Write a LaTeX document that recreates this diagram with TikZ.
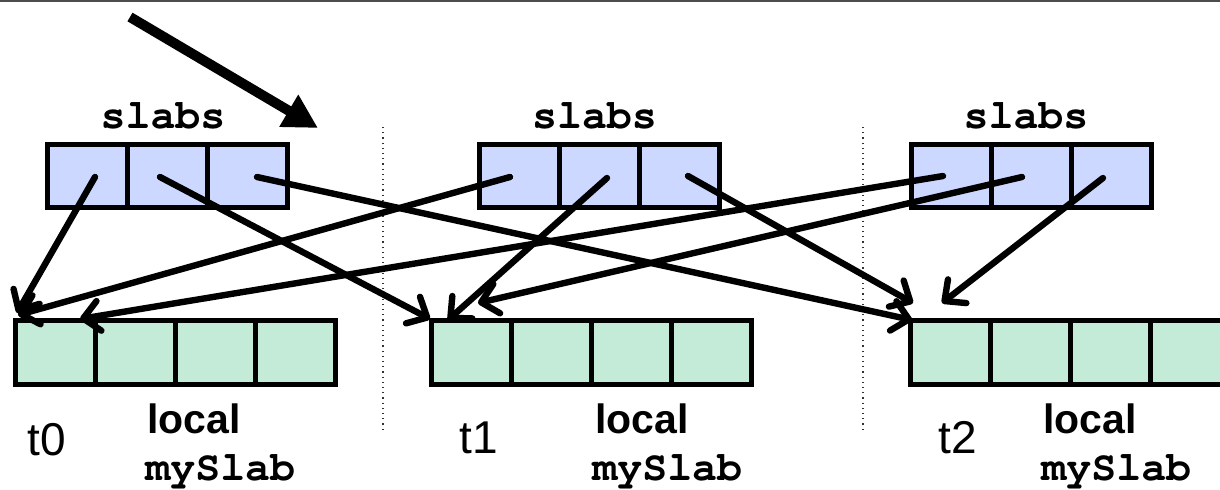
\documentclass[tikz,border=0pt]{standalone}
\usepackage[T1,TU]{fontenc}
\usepackage{fontspec}
\setmainfont{Liberation Sans}
\setsansfont{Liberation Sans}
\setmonofont{Liberation Mono}
\usetikzlibrary{arrows.meta,calc}
\definecolor{slabblue}{RGB}{204,216,255}
\definecolor{localgreen}{RGB}{196,234,216}
\newcommand\courbold{\fontencoding{T1}\fontfamily{pcr}\fontseries{b}\fontshape{n}\selectfont}

\begin{document}
\begin{tikzpicture}[x=0.5pt,y=-0.5pt,
  cellbase/.style={draw=black,line width=2.5pt,minimum width=40pt,inner sep=0pt,outer sep=0pt},
  slabcell/.style={cellbase,fill=slabblue,minimum height=31.5pt},
  localcell/.style={cellbase,fill=localgreen,minimum height=32pt},
  slabptr/.style={draw=black,line width=3.2pt,line cap=round,-{Straight Barb[length=8pt,width=15pt,round]}},
  bigptr/.style={line width=5pt,-{Triangle[length=17pt,width=17.5pt]}},
  codetxt/.style={font=\courbold\fontsize{20.8}{25}\selectfont,inner sep=0pt},
  localtxt/.style={font=\bfseries\fontsize{20.5}{25}\selectfont,inner sep=0pt},
  tidtxt/.style={font=\fontsize{23}{28}\selectfont,inner sep=0pt},
  sep/.style={line width=0.6pt,dotted,black!80}
]
\useasboundingbox (0,0) rectangle (1220,489);
\clip (0,0) rectangle (1220,489);

% rule along the top edge
\draw[line width=1pt,black!70] (0,1) -- (1220,1);

% thread separators
\draw[sep] (383,127) -- (383,432);
\draw[sep] (863,127) -- (863,432);

% shared slab pointer arrays
\foreach \g/\x in {0/87.5,1/519.5,2/951.5}{
  \foreach \c in {0,1,2}{
    \node[slabcell] (s\g\c) at ({\x+80*\c},176) {};
  }
}

% per-thread local slabs
\foreach \g/\x in {0/55.5,1/471.5,2/950.5}{
  \foreach \c in {0,1,2,3}{
    \node[localcell] (l\g\c) at ({\x+80*\c},352.5) {};
  }
}

% labels
\node[codetxt,anchor=base] (sl0) at (163,128) {slabs};
\node[codetxt,anchor=base] (sl1) at (594.5,128) {slabs};
\node[codetxt,anchor=base] (sl2) at (1026,128) {slabs};

\node[localtxt,anchor=base west] (lo0) at (147,433) {local};
\node[localtxt,anchor=base west] (lo1) at (595,433) {local};
\node[localtxt,anchor=base west] (lo2) at (1043,433) {local};

\node[codetxt,anchor=base west] (ms0) at (145,480) {mySlab};
\node[codetxt,anchor=base west] (ms1) at (592,480) {mySlab};
\node[codetxt,anchor=base west] (ms2) at (1041,480) {mySlab};

\node[tidtxt,anchor=base west] (t0) at (27,455) {t0};
\node[tidtxt,anchor=base west] (t1) at (459,453) {t1};
\node[tidtxt,anchor=base west] (t2) at (938,453) {t2};

% pointers from each slab entry to a thread's local slab
\draw[slabptr] ($(s00)+(7.5,1)$)  -- ($(l00.north west)+(1.5,-7.5)$);
\draw[slabptr] ($(s10)+(-9.5,1)$) -- ($(l00.north west)+(2.5,-5.5)$);
\draw[slabptr] ($(s20)+(-8.5,0)$) -- ($(l00.north west)+(64.5,-1.5)$);

\draw[slabptr] ($(s01)+(-7.5,1)$) -- ($(l10.north west)+(-1.5,-1.5)$);
\draw[slabptr] ($(s11)+(7.5,2)$)  -- ($(l10.north west)+(16.5,-0.5)$);
\draw[slabptr] ($(s21)+(-9.5,1)$) -- ($(l10.north west)+(46.5,-17.5)$);

\draw[slabptr] ($(s02)+(9.5,1)$)  -- ($(l20.north west)+(1.5,-0.5)$);
\draw[slabptr] ($(s12)+(8.5,0)$)  -- ($(l20.north west)+(2.5,-17.5)$);
\draw[slabptr] ($(s22)+(-8.5,2)$) -- ($(l20.north west)+(31.5,-17.5)$);

% heavy pointer into the first slab array
\coordinate (bigstart) at (130,17);
\coordinate (bigtip) at (318,128);
\draw[bigptr] (bigstart) -- (bigtip);
\end{tikzpicture}
\end{document}
